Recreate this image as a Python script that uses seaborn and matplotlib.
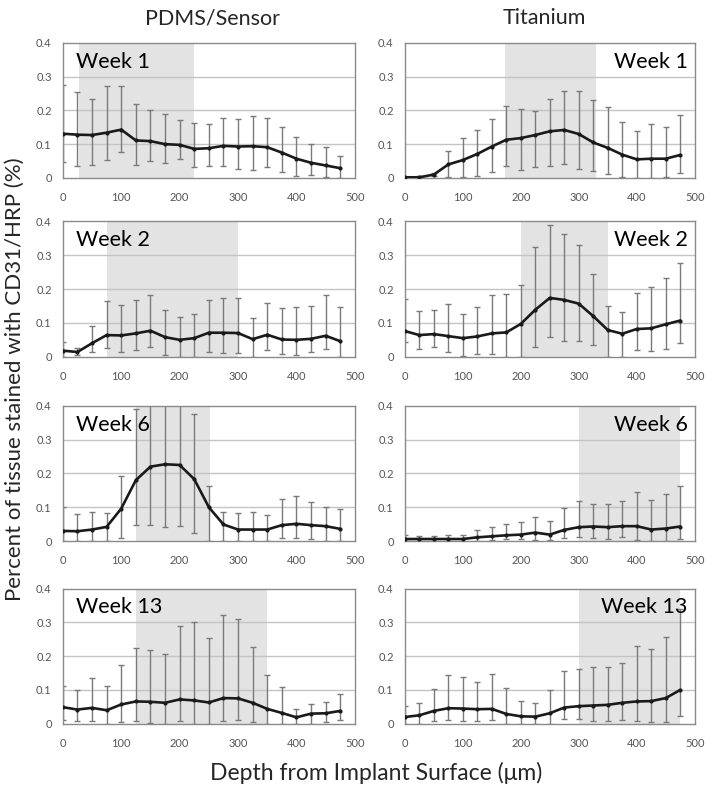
import numpy as np
import pandas as pd
import matplotlib
matplotlib.use("Agg")
import matplotlib.pyplot as plt
import matplotlib.ticker as mticker
import seaborn as sns

# ── Data ────────────────────────────────────────────────────────────────────
depth = list(range(0, 500, 25))

# PDMS/Sensor
pdms_w1_mean = [0.131, 0.128, 0.127, 0.134, 0.143, 0.111, 0.109, 0.100, 0.098, 0.086,
                0.088, 0.095, 0.093, 0.094, 0.091, 0.075, 0.057, 0.045, 0.037, 0.029]
pdms_w1_hi = [0.275, 0.255, 0.235, 0.272, 0.272, 0.219, 0.201, 0.190, 0.172, 0.162,
              0.159, 0.176, 0.175, 0.184, 0.176, 0.152, 0.120, 0.101, 0.091, 0.066]
pdms_w1_lo = [0.047, 0.035, 0.039, 0.053, 0.077, 0.037, 0.051, 0.045, 0.055, 0.031,
              0.035, 0.035, 0.026, 0.025, 0.032, 0.019, 0.007, 0.008, 0.002, 0.000]

pdms_w2_mean = [0.018, 0.014, 0.040, 0.064, 0.063, 0.069, 0.077, 0.058, 0.050, 0.055,
                0.071, 0.071, 0.070, 0.052, 0.065, 0.051, 0.050, 0.053, 0.062, 0.046]
pdms_w2_hi = [0.045, 0.027, 0.092, 0.166, 0.154, 0.169, 0.184, 0.138, 0.118, 0.126,
              0.169, 0.174, 0.174, 0.115, 0.160, 0.145, 0.148, 0.151, 0.184, 0.147]
pdms_w2_lo = [0.000, 0.004, 0.014, 0.026, 0.015, 0.020, 0.030, 0.004, 0.000, 0.000,
              0.013, 0.010, 0.010, 0.000, 0.019, 0.007, 0.004, 0.013, 0.024, 0.000]

pdms_w6_mean = [0.030, 0.029, 0.034, 0.042, 0.096, 0.180, 0.220, 0.227, 0.225, 0.183,
                0.100, 0.049, 0.034, 0.034, 0.034, 0.047, 0.051, 0.047, 0.044, 0.036]
pdms_w6_hi = [0.100, 0.080, 0.085, 0.082, 0.191, 0.390, 0.460, 0.460, 0.460, 0.376,
              0.164, 0.086, 0.084, 0.086, 0.078, 0.123, 0.134, 0.114, 0.100, 0.096]
pdms_w6_lo = [0.000, 0.000, 0.000, 0.000, 0.008, 0.047, 0.048, 0.042, 0.045, 0.023,
              0.000, 0.000, 0.000, 0.000, 0.000, 0.008, 0.010, 0.005, 0.000, 0.000]

pdms_w13_mean = [0.049, 0.042, 0.047, 0.040, 0.057, 0.066, 0.065, 0.062, 0.072, 0.069,
                 0.063, 0.076, 0.075, 0.062, 0.044, 0.032, 0.019, 0.030, 0.031, 0.038]
pdms_w13_hi = [0.111, 0.100, 0.134, 0.113, 0.174, 0.224, 0.217, 0.206, 0.289, 0.300,
               0.254, 0.323, 0.310, 0.227, 0.144, 0.110, 0.044, 0.058, 0.065, 0.088]
pdms_w13_lo = [0.012, 0.007, 0.007, 0.000, 0.004, 0.009, 0.003, 0.000, 0.007, 0.000,
               0.000, 0.008, 0.011, 0.004, 0.000, 0.000, 0.000, 0.000, 0.004, 0.010]

# Titanium
ti_w1_mean = [0.002, 0.002, 0.010, 0.040, 0.053, 0.071, 0.093, 0.113, 0.118, 0.127,
              0.138, 0.142, 0.130, 0.105, 0.089, 0.069, 0.055, 0.057, 0.057, 0.068]
ti_w1_hi = [0.004, 0.005, 0.015, 0.079, 0.118, 0.143, 0.175, 0.212, 0.204, 0.199,
            0.234, 0.258, 0.256, 0.232, 0.209, 0.165, 0.138, 0.160, 0.151, 0.186]
ti_w1_lo = [0.000, 0.000, 0.005, 0.004, 0.002, 0.007, 0.019, 0.034, 0.024, 0.031,
            0.035, 0.040, 0.027, 0.021, 0.013, 0.004, 0.000, 0.000, 0.003, 0.014]

ti_w2_mean = [0.076, 0.064, 0.067, 0.061, 0.055, 0.060, 0.069, 0.072, 0.097, 0.139,
              0.174, 0.168, 0.157, 0.120, 0.079, 0.068, 0.082, 0.084, 0.096, 0.107]
ti_w2_hi = [0.171, 0.134, 0.137, 0.156, 0.125, 0.146, 0.182, 0.187, 0.213, 0.324,
            0.389, 0.363, 0.331, 0.245, 0.151, 0.131, 0.189, 0.206, 0.233, 0.278]
ti_w2_lo = [0.043, 0.024, 0.029, 0.013, 0.002, 0.007, 0.009, 0.000, 0.000, 0.030,
            0.058, 0.048, 0.048, 0.035, 0.000, 0.000, 0.019, 0.017, 0.024, 0.041]

ti_w6_mean = [0.006, 0.006, 0.006, 0.006, 0.006, 0.011, 0.014, 0.017, 0.019, 0.025,
              0.019, 0.033, 0.041, 0.043, 0.041, 0.044, 0.044, 0.034, 0.037, 0.043]
ti_w6_hi = [0.017, 0.015, 0.015, 0.018, 0.018, 0.032, 0.041, 0.050, 0.057, 0.071,
            0.059, 0.099, 0.119, 0.111, 0.111, 0.119, 0.144, 0.121, 0.140, 0.164]
ti_w6_lo = [0.000, 0.000, 0.000, 0.000, 0.000, 0.000, 0.002, 0.005, 0.005, 0.002,
            0.002, 0.009, 0.013, 0.010, 0.005, 0.011, 0.003, 0.000, 0.000, 0.005]

ti_w13_mean = [0.020, 0.025, 0.038, 0.046, 0.045, 0.043, 0.044, 0.029, 0.022, 0.021,
               0.031, 0.048, 0.052, 0.054, 0.056, 0.062, 0.066, 0.067, 0.076, 0.100]
ti_w13_hi = [0.053, 0.061, 0.103, 0.145, 0.138, 0.123, 0.147, 0.107, 0.066, 0.061,
             0.100, 0.155, 0.163, 0.169, 0.169, 0.181, 0.230, 0.222, 0.256, 0.340]
ti_w13_lo = [0.000, 0.000, 0.007, 0.012, 0.007, 0.007, 0.012, 0.000, 0.000, 0.000,
             0.000, 0.013, 0.014, 0.007, 0.007, 0.010, 0.007, 0.005, 0.005, 0.022]

# shaded depth ranges per panel
pdms_shade = [(28, 225), (75, 300), (125, 252), (125, 350)]
ti_shade = [(173, 330), (200, 350), (300, 475), (300, 475)]

week_labels = ["Week 1", "Week 2", "Week 6", "Week 13"]
col_titles = ["PDMS/Sensor", "Titanium"]

panels = {
    ("PDMS/Sensor", 0): (pdms_w1_mean, pdms_w1_lo, pdms_w1_hi),
    ("PDMS/Sensor", 1): (pdms_w2_mean, pdms_w2_lo, pdms_w2_hi),
    ("PDMS/Sensor", 2): (pdms_w6_mean, pdms_w6_lo, pdms_w6_hi),
    ("PDMS/Sensor", 3): (pdms_w13_mean, pdms_w13_lo, pdms_w13_hi),
    ("Titanium", 0): (ti_w1_mean, ti_w1_lo, ti_w1_hi),
    ("Titanium", 1): (ti_w2_mean, ti_w2_lo, ti_w2_hi),
    ("Titanium", 2): (ti_w6_mean, ti_w6_lo, ti_w6_hi),
    ("Titanium", 3): (ti_w13_mean, ti_w13_lo, ti_w13_hi),
}

# ── Style ───────────────────────────────────────────────────────────────────
sns.set_theme(style="white")
plt.rcParams["font.family"] = ["Lato", "DejaVu Sans"]

fig = plt.figure(figsize=(7.14, 7.91), dpi=100, facecolor="white")

col_left = [0.088, 0.567]
col_width = [0.409, 0.406]
row_bottom = [0.775, 0.549, 0.316, 0.085]
row_height = 0.171

for ci, material in enumerate(col_titles):
    shades = pdms_shade if ci == 0 else ti_shade
    for ri in range(4):
        ax = fig.add_axes([col_left[ci], row_bottom[ri], col_width[ci], row_height])
        mean, lo, hi = panels[(material, ri)]
        df = pd.DataFrame({"depth": depth, "mean": mean, "lo": lo, "hi": hi})

        ax.axvspan(*shades[ri], color="#e3e3e3", zorder=0, lw=0)
        for yv in [0.1, 0.2, 0.3]:
            ax.axhline(yv, color="#c4c4c4", lw=1.0, zorder=1)

        ax.errorbar(df["depth"], df["mean"],
                    yerr=[df["mean"] - df["lo"], df["hi"] - df["mean"]],
                    fmt="none", ecolor="#7a7a7a", elinewidth=1.0,
                    capsize=2.5, capthick=1.0, zorder=2)
        sns.lineplot(data=df, x="depth", y="mean", ax=ax, color="#1a1a1a",
                     lw=1.9, marker="o", markersize=3, markeredgewidth=0,
                     zorder=3)

        ax.set_xlim(0, 500)
        ax.set_ylim(0, 0.4)
        ax.set_xticks(range(0, 501, 100))
        ax.set_yticks([0, 0.1, 0.2, 0.3, 0.4])
        ax.yaxis.set_major_formatter(mticker.FuncFormatter(
            lambda v, p: "0" if v == 0 else f"{v:.1f}"))
        ax.tick_params(labelsize=8, colors="#555555", length=3,
                       width=0.8, direction="out", pad=5)
        ax.tick_params(axis="x", pad=7)
        ax.set_xlabel("")
        ax.set_ylabel("")
        for s in ax.spines.values():
            s.set_color("#8a8a8a")
            s.set_linewidth(1.0)

        if ci == 0:
            ax.text(0.045, 0.86, week_labels[ri], transform=ax.transAxes,
                    ha="left", va="center", fontsize=15.5, color="black", zorder=5)
        else:
            ax.text(0.975, 0.86, week_labels[ri], transform=ax.transAxes,
                    ha="right", va="center", fontsize=15.5, color="black", zorder=5)

fig.text(0.298, 0.977, col_titles[0], ha="center", va="center", fontsize=15.5)
fig.text(0.762, 0.977, col_titles[1], ha="center", va="center", fontsize=15.5)
fig.text(0.021, 0.52, "Percent of tissue stained with CD31/HRP (%)",
         rotation=90, ha="center", va="center", fontsize=16)
fig.text(0.527, 0.023, "Depth from Implant Surface (\u03bcm)",
         ha="center", va="center", fontsize=16.5)

fig.savefig("out.png", dpi=100, facecolor="white")
